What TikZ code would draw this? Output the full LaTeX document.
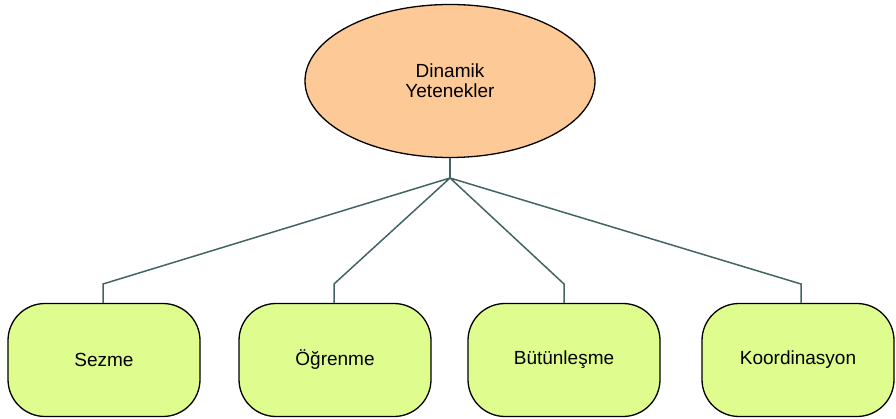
\documentclass[tikz,border=0pt]{standalone}
\usepackage{fontspec}
\setmainfont{Liberation Sans}
\usetikzlibrary{shapes.geometric}
\definecolor{peach}{HTML}{FCC997}
\definecolor{lime}{HTML}{DEFD8E}
\definecolor{slate}{HTML}{446464}
\begin{document}
\begin{tikzpicture}[x=1pt,y=-1pt]
			\tikzstyle{root}=[ellipse,draw=black,fill=peach,line width=1.3pt,minimum width=290pt,minimum height=153pt,inner sep=0pt,align=center,font=\fontsize{19}{20}\selectfont]
			\tikzstyle{ability}=[rectangle,rounded corners=37pt,draw=black,fill=lime,line width=1.3pt,minimum width=192pt,minimum height=113pt,inner sep=0pt,font=\fontsize{19}{20}\selectfont]
			\tikzstyle{link}=[draw=slate,line width=1.5pt]
			\useasboundingbox (0,0) rectangle (896,419);
			\begin{scope}
			\node[root] (dinamik) at (450,81) {Dinamik\\Yetenekler};
			\node[ability] (sezme) at (104,360) {Sezme};
			\node[ability] (ogrenme) at (335,360) {Öğrenme};
			\node[ability] (butun) at (564,360) {Bütünleşme};
			\node[ability] (koord) at (798,360) {Koordinasyon};
			
			\coordinate (hub) at (450,178);
			\coordinate (b-sezme) at (103,284);
			\coordinate (b-ogrenme) at (334,284);
			\coordinate (b-butun) at (564,284);
			\coordinate (b-koord) at (801,284);
			\end{scope}
			
			\path[link,line width=2pt] (dinamik.south) -- (hub);
			\path[link]
			(hub) -- (b-sezme) -- (b-sezme |- sezme.north)
			(hub) -- (b-ogrenme) -- (b-ogrenme |- ogrenme.north)
			(hub) -- (b-butun) -- (b-butun |- butun.north)
			(hub) -- (b-koord) -- (b-koord |- koord.north)
			;
		\end{tikzpicture}
\end{document}
